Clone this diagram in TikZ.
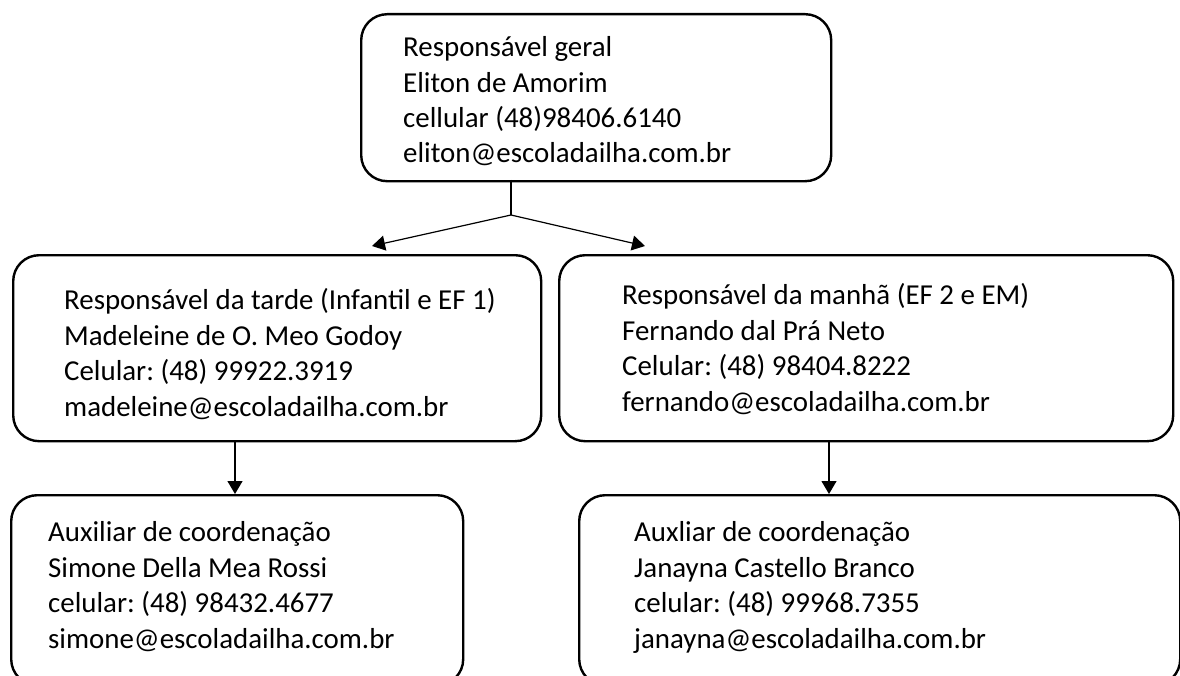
\documentclass[tikz,border=0pt]{standalone}
\usepackage{fontspec}
\setmainfont{Carlito}
\usetikzlibrary{arrows.meta}
\frenchspacing
\begin{document}
\begin{tikzpicture}[x=1bp,y=-1bp,
  box/.style={draw=black, line width=2.4bp, rounded corners=26bp},
  txt/.style={anchor=base west, align=left, inner sep=0pt, font=\fontsize{29}{35.5}\selectfont},
  conn/.style={draw=black, line width=1.2bp},
  arr/.style={conn, -{Triangle[length=13bp,width=15bp]}}]
\useasboundingbox (0,0) rectangle (1180,676);
\clip (0,0) rectangle (1180,676);
% boxes
\node[box, minimum width=470bp, minimum height=167bp, anchor=north west] (top) at (360,13) {};
\node[box, minimum width=528bp, minimum height=186bp, anchor=north west] (ml) at (12,254) {};
\node[box, minimum width=614bp, minimum height=186bp, anchor=north west] (mr) at (558,254) {};
\node[box, minimum width=452bp, minimum height=190bp, anchor=north west] (bl) at (10,494) {};
\node[box, minimum width=601bp, minimum height=190bp, anchor=north west] (br) at (578,494) {};
% texts (anchored at the baseline of the last line)
\node[txt] (ttop) at (403,163) {Responsável geral\\Eliton de Amorim\\cellular (48)98406.6140\\eliton@escoladailha.com.br};
\node[txt] (tml) at (64,416) {Responsável da tarde (Infantil e EF 1)\\Madeleine de O. Meo Godoy\\Celular: (48) 99922.3919\\madeleine@escoladailha.com.br};
\node[txt] (tmr) at (622,411) {Responsável da manhã (EF 2 e EM)\\Fernando dal Prá Neto\\Celular: (48) 98404.8222\\fernando@escoladailha.com.br};
\node[txt] (tbl) at (48,648) {Auxiliar de coordenação\\Simone Della Mea Rossi\\celular: (48) 98432.4677\\simone@escoladailha.com.br};
\node[txt] (tbr) at (634,648) {Auxliar de coordenação\\Janayna Castello Branco\\celular: (48) 99968.7355\\janayna@escoladailha.com.br};
% connectors
\coordinate (j) at (511,215);
\coordinate (jt) at (511,180);
\coordinate (tl) at (372,246);
\coordinate (tr) at (645,246);
\coordinate (ls) at (235,440);
\coordinate (le) at (235,494);
\coordinate (rs) at (829,440);
\coordinate (re) at (829,494);
\draw[conn] (jt) -- (j);
\draw[arr] (j) -- (tl);
\draw[arr] (j) -- (tr);
\draw[arr] (ls) -- (le);
\draw[arr] (rs) -- (re);
\end{tikzpicture}
\end{document}
